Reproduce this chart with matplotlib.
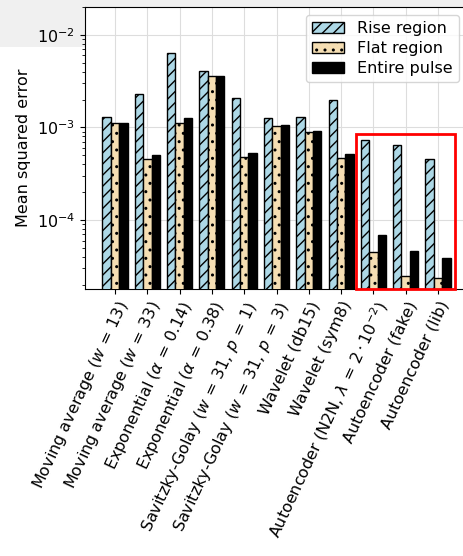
import numpy as np
import matplotlib
matplotlib.use("Agg")
import matplotlib.pyplot as plt
from matplotlib.patches import Rectangle

methods = [
    r"Moving average ($w\,=\,13$)",
    r"Moving average ($w\,=\,33$)",
    r"Exponential ($\alpha\,=\,0.14$)",
    r"Exponential ($\alpha\,=\,0.38$)",
    r"Savitzky-Golay ($w\,=\,31,\,p\,=\,1$)",
    r"Savitzky-Golay ($w\,=\,31,\,p\,=\,3$)",
    r"Wavelet (db15)",
    r"Wavelet (sym8)",
    r"Autoencoder (N2N, $\lambda\,=\,2 \cdot 10^{-2}$)",
    r"Autoencoder (fake)",
    r"Autoencoder (lib)",
]
rise = [1.30e-3, 2.27e-3, 6.33e-3, 4.12e-3, 2.08e-3, 1.27e-3, 1.30e-3, 1.99e-3, 7.35e-4, 6.44e-4, 4.55e-4]
flat = [1.11e-3, 4.52e-4, 1.12e-3, 3.57e-3, 4.78e-4, 1.04e-3, 8.97e-4, 4.63e-4, 4.52e-5, 2.49e-5, 2.35e-5]
entire = [1.12e-3, 5.06e-4, 1.28e-3, 3.64e-3, 5.24e-4, 1.06e-3, 9.12e-4, 5.15e-4, 6.89e-5, 4.64e-5, 3.92e-5]

plt.rcParams['font.size'] = 11.5
plt.rcParams['hatch.linewidth'] = 1.0

fig = plt.figure(figsize=(4.64, 5.56), dpi=100)
# gray page background peeking in at the top left
fig.patches.append(Rectangle((0, 1 - 47/556), 85/464, 47/556, transform=fig.transFigure,
                             facecolor="#f0f0f0", edgecolor="none", zorder=-10))
fig.patches.append(Rectangle((0, 1 - 7/556), 1, 7/556, transform=fig.transFigure,
                             facecolor="#f0f0f0", edgecolor="none", zorder=-10))

ax = fig.add_axes([85/464, 1 - 289/556, 383/464, 282/556])
x = np.arange(len(methods))
w = 0.26
ax.bar(x - w, rise, w, color="lightblue", edgecolor="black", hatch="///", label="Rise region", zorder=3)
ax.bar(x, flat, w, color="wheat", edgecolor="black", hatch="..", label="Flat region", zorder=3)
ax.bar(x + w, entire, w, color="black", edgecolor="black", label="Entire pulse", zorder=3)

ax.set_yscale("log")
ax.set_ylim(1.8e-5, 2.0e-2)
ax.set_ylabel("Mean squared error")
ax.set_xticks(x)
ax.set_xticklabels(methods, rotation=65, ha="right", rotation_mode="anchor")
ax.grid(True, color="#dddddd", zorder=0)

ax.add_patch(Rectangle((7.45, 1.8e-5), 3.08, 8.53e-4 - 1.8e-5, fill=False,
                       edgecolor="red", linewidth=2, zorder=5, clip_on=False))

ax.legend(loc="upper right", bbox_to_anchor=(459/464, 1 - 15/556),
          bbox_transform=fig.transFigure, borderaxespad=0, labelspacing=0.3)

fig.savefig("out.png", dpi=100)
